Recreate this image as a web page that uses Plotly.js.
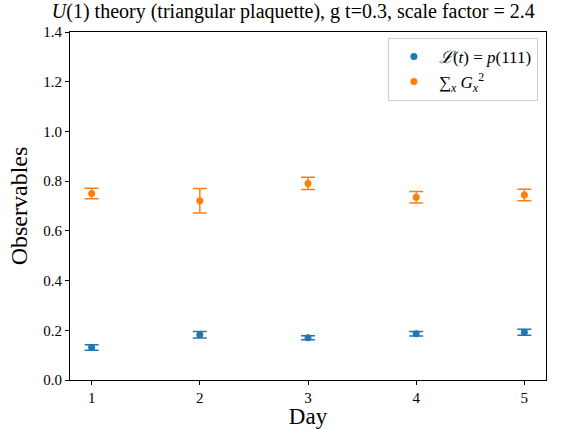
<!DOCTYPE html>
<html>
<head>
<meta charset="utf-8">
<script src="https://cdn.plot.ly/plotly-3.0.1.min.js"></script>
<style>html,body{margin:0;padding:0;background:#fff;}#chart{width:582px;height:429px;}</style>
</head>
<body>
<div id="chart"></div>
<script>
const days = [1, 2, 3, 4, 5];
const loschmidt = [0.131, 0.182, 0.170, 0.186, 0.192];
const loschmidtErr = [0.011, 0.013, 0.008, 0.009, 0.012];
const gaussSum = [0.750, 0.721, 0.791, 0.735, 0.744];
const gaussSumErr = [0.021, 0.049, 0.025, 0.023, 0.023];
const yTicks = [0, 0.2, 0.4, 0.6, 0.8, 1.0, 1.2, 1.4];

const FONT = "Liberation Serif, DejaVu Serif, serif";

const traces = [
  {
    x: days, y: loschmidt, type: 'scatter', mode: 'markers',
    name: '<i>ℒ</i>(<i>t</i>) = <i>p</i>(111)',
    marker: {color: '#1f77b4', size: 7},
    error_y: {type: 'data', array: loschmidtErr, visible: true, color: '#1f77b4', thickness: 1.5, width: 7}
  },
  {
    x: days, y: gaussSum, type: 'scatter', mode: 'markers',
    name: '∑<sub><i>x</i></sub> <i>G</i><sub><i>x</i></sub><sup>2</sup>',
    marker: {color: '#ff7f0e', size: 7},
    error_y: {type: 'data', array: gaussSumErr, visible: true, color: '#ff7f0e', thickness: 1.5, width: 7}
  }
];

const layout = {
  width: 582, height: 429,
  margin: {l: 70, r: 36, t: 32, b: 49},
  paper_bgcolor: '#fff', plot_bgcolor: '#fff',
  font: {family: FONT, color: '#000', size: 15},
  title: {text: '<i>U</i>(1) theory (triangular plaquette), g t=0.3, scale factor = 2.4',
          font: {family: FONT, size: 20, color: '#000'}, x: 0.504, xref: 'container', xanchor: 'center', y: 0.99, yanchor: 'top'},
  showlegend: true,
  legend: {x: 0.983, y: 0.983, xanchor: 'right', yanchor: 'top', bgcolor: 'rgba(255,255,255,0.8)',
           bordercolor: '#cccccc', borderwidth: 1, font: {family: FONT, size: 17, color: '#000'},
           itemwidth: 40, tracegroupgap: 2},
  xaxis: {
    range: [0.8, 5.2], tickvals: days, ticktext: days.map(String),
    showgrid: false, zeroline: false, showline: true, linecolor: '#000', linewidth: 1, mirror: true,
    ticks: 'outside', ticklen: 4, tickwidth: 1, tickcolor: '#000',
    tickfont: {family: FONT, size: 15},
    title: {text: 'Day', font: {family: FONT, size: 23}, standoff: 7}
  },
  yaxis: {
    range: [0, 1.4], tickvals: yTicks, ticktext: yTicks.map(v => v.toFixed(1)),
    showgrid: false, zeroline: false, showline: true, linecolor: '#000', linewidth: 1, mirror: true,
    ticks: 'outside', ticklen: 4, tickwidth: 1, tickcolor: '#000',
    tickfont: {family: FONT, size: 15},
    title: {text: 'Observables', font: {family: FONT, size: 24}, standoff: 8}
  }
};

Plotly.newPlot('chart', traces, layout, {displayModeBar: false, staticPlot: true});
</script>
</body>
</html>
